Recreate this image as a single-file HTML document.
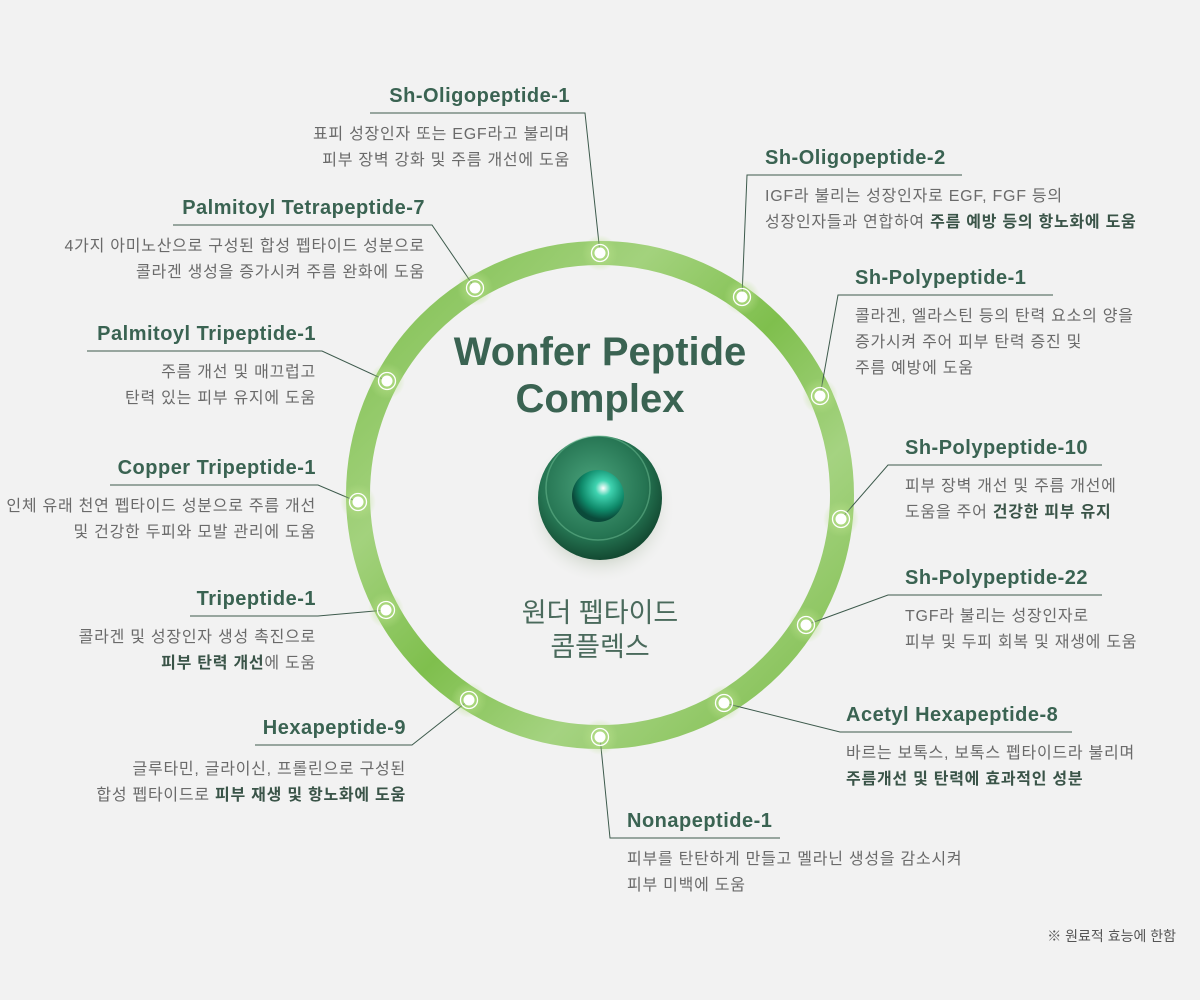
<!DOCTYPE html>
<html><head><meta charset="utf-8"><style>
html,body{margin:0;padding:0;}
body{width:1200px;height:1000px;background:#f2f2f2;position:relative;overflow:hidden;font-family:"Liberation Sans","Noto Sans CJK KR",sans-serif;}
.t{position:absolute;font-weight:bold;font-size:20px;letter-spacing:0.5px;color:#3a6352;white-space:nowrap;line-height:24px;}
.d{position:absolute;font-size:16px;letter-spacing:0.75px;color:#6a6a6a;white-space:nowrap;line-height:26px;}
.d b{color:#3a5448;}
.r{text-align:right;}
svg{position:absolute;left:0;top:0;}
</style></head><body>
<svg width="1200" height="1000">
<defs>
<linearGradient id="rg" x1="0" y1="0" x2="1" y2="1">
<stop offset="0" stop-color="#7cbd4c"/><stop offset="0.3" stop-color="#a3d27d"/><stop offset="0.5" stop-color="#7fbf4d"/><stop offset="0.7" stop-color="#a5d381"/><stop offset="1" stop-color="#7bbb48"/>
</linearGradient>
<radialGradient id="sph" cx="0.45" cy="0.4" r="0.6">
<stop offset="0" stop-color="#4aa37c"/><stop offset="0.7" stop-color="#257452"/><stop offset="1" stop-color="#134a32"/>
</radialGradient>
<radialGradient id="core" cx="0.6" cy="0.35" r="0.6">
<stop offset="0" stop-color="#ffffff"/><stop offset="0.25" stop-color="#3fd3b0"/><stop offset="0.7" stop-color="#0f8a6a"/><stop offset="1" stop-color="#0a4a3a"/>
</radialGradient>
<radialGradient id="sh" cx="0.5" cy="0.5" r="0.5">
<stop offset="0.6" stop-color="#9aab90" stop-opacity="0.5"/><stop offset="1" stop-color="#f2f2f2" stop-opacity="0"/>
</radialGradient>
<radialGradient id="glow" cx="0.5" cy="0.5" r="0.5">
<stop offset="0" stop-color="#b8e08a" stop-opacity="0.9"/><stop offset="1" stop-color="#b8e08a" stop-opacity="0"/>
</radialGradient>
</defs>
<circle cx="600" cy="495" r="242" fill="none" stroke="url(#rg)" stroke-width="24"/>
<circle cx="600" cy="508" r="76" fill="url(#sh)"/>
<circle cx="600" cy="498" r="62" fill="url(#sph)"/>
<circle cx="598" cy="488" r="52" fill="none" stroke="#6fbf95" stroke-width="1.5" opacity="0.5"/>
<circle cx="598" cy="496" r="26" fill="url(#core)"/>
<g stroke="#3d5a4c" stroke-width="1" fill="none">
<polyline points="370,113 585,113 600,253"/>
<polyline points="962,175 747,175 742,297"/>
<polyline points="173,225 432,225 475,288"/>
<polyline points="1053,295 838,295 820,396"/>
<polyline points="87,351 322,351 387,381"/>
<polyline points="1102,465 888,465 841,519"/>
<polyline points="110,485 318,485 358,502"/>
<polyline points="190,616 318,616 386,610"/>
<polyline points="1102,595 888,595 806,625"/>
<polyline points="255,745 412,745 469,700"/>
<polyline points="1072,732 840,732 724,703"/>
<polyline points="780,838 610,838 600,737"/>
</g>
<g fill="url(#glow)">
<circle cx="600" cy="253" r="18"/><circle cx="475" cy="288" r="18"/><circle cx="742" cy="297" r="18"/><circle cx="387" cy="381" r="18"/><circle cx="820" cy="396" r="18"/><circle cx="358" cy="502" r="18"/><circle cx="841" cy="519" r="18"/><circle cx="386" cy="610" r="18"/><circle cx="806" cy="625" r="18"/><circle cx="469" cy="700" r="18"/><circle cx="724" cy="703" r="18"/><circle cx="600" cy="737" r="18"/>
</g>
<g fill="#ffffff" stroke="#ffffff">
<g fill="none" stroke-width="1.3">
<circle cx="600" cy="253" r="8.5"/><circle cx="475" cy="288" r="8.5"/><circle cx="742" cy="297" r="8.5"/><circle cx="387" cy="381" r="8.5"/><circle cx="820" cy="396" r="8.5"/><circle cx="358" cy="502" r="8.5"/><circle cx="841" cy="519" r="8.5"/><circle cx="386" cy="610" r="8.5"/><circle cx="806" cy="625" r="8.5"/><circle cx="469" cy="700" r="8.5"/><circle cx="724" cy="703" r="8.5"/><circle cx="600" cy="737" r="8.5"/>
</g>
<g stroke="none">
<circle cx="600" cy="253" r="5.5"/><circle cx="475" cy="288" r="5.5"/><circle cx="742" cy="297" r="5.5"/><circle cx="387" cy="381" r="5.5"/><circle cx="820" cy="396" r="5.5"/><circle cx="358" cy="502" r="5.5"/><circle cx="841" cy="519" r="5.5"/><circle cx="386" cy="610" r="5.5"/><circle cx="806" cy="625" r="5.5"/><circle cx="469" cy="700" r="5.5"/><circle cx="724" cy="703" r="5.5"/><circle cx="600" cy="737" r="5.5"/>
</g>
</g>
</svg>

<div style="position:absolute;left:350px;width:500px;top:329px;text-align:center;font-weight:bold;font-size:40px;line-height:47px;color:#3a6352;">Wonfer Peptide<br>Complex</div>
<div style="position:absolute;left:400px;width:400px;top:596px;text-align:center;font-size:27px;line-height:34px;color:#4a6a5c;">원더 펩타이드<br>콤플렉스</div>

<div class="t r" style="right:630px;top:84px;">Sh-Oligopeptide-1</div>
<div class="d r" style="right:630px;top:122px;">표피 성장인자 또는 EGF라고 불리며<br>피부 장벽 강화 및 주름 개선에 도움</div>

<div class="t" style="left:765px;top:146px;">Sh-Oligopeptide-2</div>
<div class="d" style="left:765px;top:184px;">IGF라 불리는 성장인자로 EGF, FGF 등의<br>성장인자들과 연합하여 <b>주름 예방 등의 항노화에 도움</b></div>

<div class="t r" style="right:775px;top:196px;">Palmitoyl Tetrapeptide-7</div>
<div class="d r" style="right:775px;top:234px;">4가지 아미노산으로 구성된 합성 펩타이드 성분으로<br>콜라겐 생성을 증가시켜 주름 완화에 도움</div>

<div class="t" style="left:855px;top:266px;">Sh-Polypeptide-1</div>
<div class="d" style="left:855px;top:304px;">콜라겐, 엘라스틴 등의 탄력 요소의 양을<br>증가시켜 주어 피부 탄력 증진 및<br>주름 예방에 도움</div>

<div class="t r" style="right:884px;top:322px;">Palmitoyl Tripeptide-1</div>
<div class="d r" style="right:884px;top:360px;">주름 개선 및 매끄럽고<br>탄력 있는 피부 유지에 도움</div>

<div class="t" style="left:905px;top:436px;">Sh-Polypeptide-10</div>
<div class="d" style="left:905px;top:474px;">피부 장벽 개선 및 주름 개선에<br>도움을 주어 <b>건강한 피부 유지</b></div>

<div class="t r" style="right:884px;top:456px;">Copper Tripeptide-1</div>
<div class="d r" style="right:884px;top:494px;">인체 유래 천연 펩타이드 성분으로 주름 개선<br>및 건강한 두피와 모발 관리에 도움</div>

<div class="t" style="left:905px;top:566px;">Sh-Polypeptide-22</div>
<div class="d" style="left:905px;top:604px;">TGF라 불리는 성장인자로<br>피부 및 두피 회복 및 재생에 도움</div>

<div class="t r" style="right:884px;top:587px;">Tripeptide-1</div>
<div class="d r" style="right:884px;top:625px;">콜라겐 및 성장인자 생성 촉진으로<br><b>피부 탄력 개선</b>에 도움</div>

<div class="t" style="left:846px;top:703px;">Acetyl Hexapeptide-8</div>
<div class="d" style="left:846px;top:741px;">바르는 보톡스, 보톡스 펩타이드라 불리며<br><b>주름개선 및 탄력에 효과적인 성분</b></div>

<div class="t r" style="right:794px;top:716px;">Hexapeptide-9</div>
<div class="d r" style="right:794px;top:757px;">글루타민, 글라이신, 프롤린으로 구성된<br>합성 펩타이드로 <b>피부 재생 및 항노화에 도움</b></div>

<div class="t" style="left:627px;top:809px;">Nonapeptide-1</div>
<div class="d" style="left:627px;top:847px;">피부를 탄탄하게 만들고 멜라닌 생성을 감소시켜<br>피부 미백에 도움</div>

<div style="position:absolute;right:24px;top:926px;font-size:14px;color:#555;">※ 원료적 효능에 한함</div>
</body></html>
